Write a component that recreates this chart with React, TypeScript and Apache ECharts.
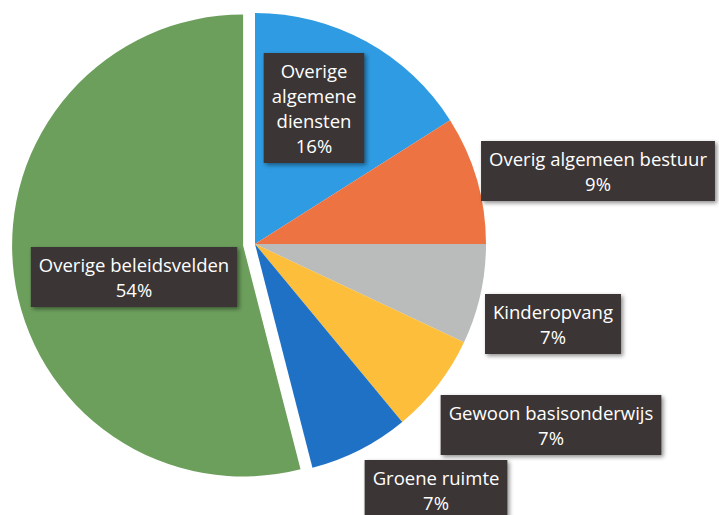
import React, { useEffect, useRef } from "react";
import * as echarts from "echarts";

const categories = [
  "Overige algemene diensten",
  "Overig algemeen bestuur",
  "Kinderopvang",
  "Gewoon basisonderwijs",
  "Groene ruimte",
  "Overige beleidsvelden",
];
const values = [16, 9, 7, 7, 7, 54];
const colors = ["#2E9BE2", "#EE7342", "#B9BCBA", "#FDBE3B", "#1F71C6", "#6C9F5C"];
const explodedIndex = 5;
const labelPositions: [number, number][] = [
  [314, 108],
  [598, 171],
  [553, 324],
  [551, 425],
  [436, 490],
  [134, 277],
];

export default function App() {
  const ref = useRef<HTMLDivElement>(null);
  useEffect(() => {
    document.body.style.margin = "0";
    const chart = echarts.init(ref.current!, null, { renderer: "svg" });
    const cx = 255;
    const cy = 244;
    const radius = 231;
    const explode = 12;
    const total = values.reduce((a, b) => a + b, 0);
    const before = values.slice(0, explodedIndex).reduce((a, b) => a + b, 0);
    const midAngle = ((before + values[explodedIndex] / 2) / total) * Math.PI * 2;
    const ex = cx + explode * Math.sin(midAngle);
    const ey = cy - explode * Math.cos(midAngle);

    chart.setOption({
      animation: false,
      backgroundColor: "#ffffff",
      series: [
        {
          type: "pie",
          center: [ex, ey],
          radius,
          startAngle: 90,
          clockwise: true,
          silent: true,
          label: { show: false },
          labelLine: { show: false },
          itemStyle: { borderWidth: 0 },
          data: categories.map((name, i) => ({
            name,
            value: values[i],
            itemStyle: { color: i === explodedIndex ? colors[i] : "rgba(0,0,0,0)" },
          })),
        },
        {
          type: "pie",
          center: [cx, cy],
          radius,
          startAngle: 90,
          clockwise: true,
          percentPrecision: 0,
          avoidLabelOverlap: false,
          itemStyle: { borderWidth: 0 },
          emphasis: { disabled: true },
          labelLine: { show: false },
          label: {
            show: true,
            position: "inside",
            color: "#ffffff",
            fontFamily: "Open Sans",
            fontSize: 18.5,
            lineHeight: 25,
            align: "center",
            backgroundColor: "#3A3436",
            padding: [5, 8, 5, 8],
            shadowColor: "rgba(0,0,0,0.45)",
            shadowBlur: 4,
            shadowOffsetX: 2,
            shadowOffsetY: 2,
            formatter: (p: any) =>
              (p.dataIndex === 0 ? p.name.split(" ").join("\n") : p.name) +
              "\n" +
              Math.round(p.percent) +
              "%",
          },
          labelLayout: (params: any) => {
            const pos = labelPositions[params.dataIndex];
            return { x: pos[0], y: pos[1], align: "center", verticalAlign: "middle" };
          },
          data: categories.map((name, i) => ({
            name,
            value: values[i],
            itemStyle: { color: i === explodedIndex ? "rgba(0,0,0,0)" : colors[i] },
          })),
        },
      ],
    });
    return () => chart.dispose();
  }, []);
  return <div ref={ref} style={{ width: 719, height: 515 }} />;
}
